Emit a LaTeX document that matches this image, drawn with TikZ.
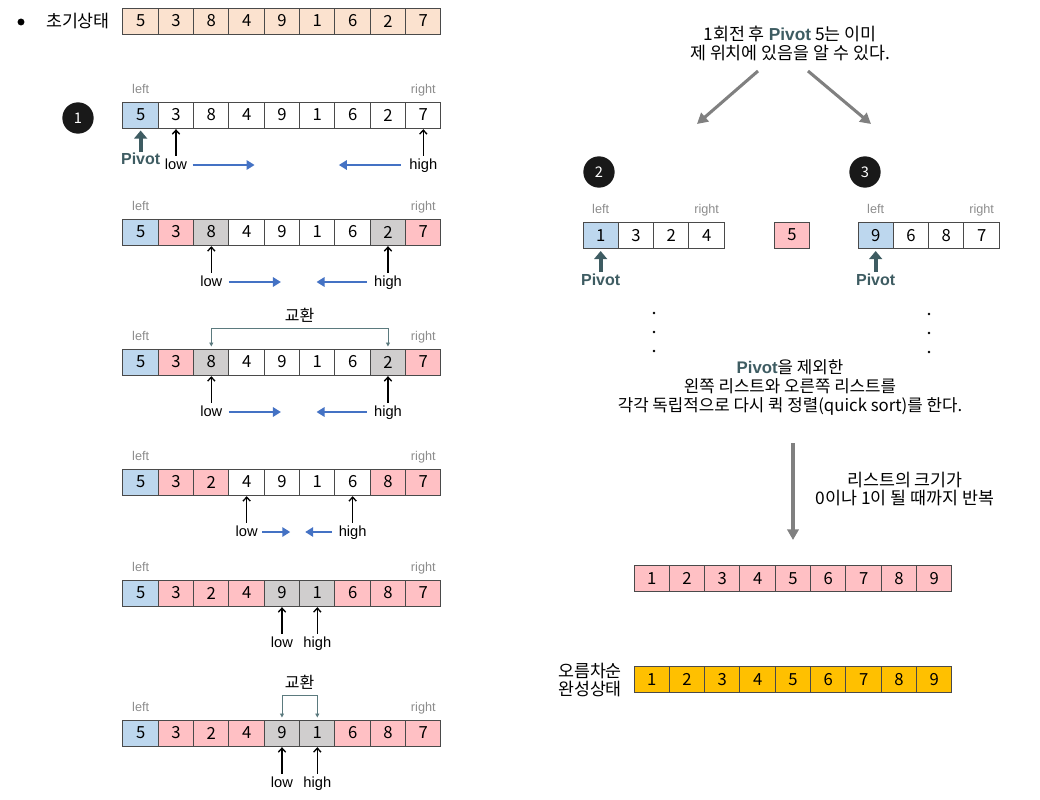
\documentclass[tikz,border=0pt]{standalone}
\usepackage{fontspec}
\setmainfont{Liberation Sans}
\newfontfamily\kr{Noto Sans CJK KR}
\usetikzlibrary{arrows.meta}
\usetikzlibrary{positioning}

\definecolor{cp}{HTML}{FBE2CF}
\definecolor{cb}{HTML}{BDD7EE}
\definecolor{cr}{HTML}{FFC0C4}
\definecolor{cg}{HTML}{D0CECE}
\definecolor{cy}{HTML}{FFC000}
\definecolor{cw}{HTML}{FFFFFF}
\definecolor{edge}{HTML}{4A4A4A}
\definecolor{movec}{HTML}{4472C4}
\definecolor{pivotc}{HTML}{3E5C62}
\definecolor{swapc}{HTML}{5B7A7E}
\definecolor{lrc}{HTML}{8C8C8C}

\newcommand{\pvt}{{\normalfont\bfseries\color{pivotc}Pivot}}

% one row of boxes: name prefix, left edge, middle y, value/colour list
\newcommand{\cellrow}[4]{%
	\foreach \val/\col [count=\i] in {#4}
		\node[cell,fill=\col] (#1\i) at ({#2+(\i-0.5)*35.33},#3) {\val};
}

\tikzset{
	cell/.style={draw=edge,line width=0.75pt,minimum width=26.5pt,minimum height=19.5pt,
		inner sep=0pt,font=\kr\fontsize{12.5}{14}\selectfont},
	lr/.style={lrc,inner sep=1pt,text height=1.6ex,text depth=0.4ex,font=\fontsize{9.5}{11}\selectfont},
	ptr/.style={inner sep=1pt,text height=1.6ex,text depth=0.45ex,font=\fontsize{11}{13}\selectfont},
	pv/.style={pivotc,inner sep=1pt,font=\bfseries\fontsize{12}{14}\selectfont},
	num/.style={circle,fill=black!90,text=white,minimum size=23.5pt,inner sep=0pt,
		font=\kr\fontsize{11}{12}\selectfont},
	msg/.style={align=center,font=\kr\fontsize{13}{14.4}\selectfont},
	ptrarr/.style={line width=1pt,-{Straight Barb[length=3pt,width=5.5pt]},shorten <=0.5pt,shorten >=0.5pt},
	move/.style={movec,line width=2.2pt,-{Triangle[length=6pt,width=7pt]}},
	pvarr/.style={pivotc,line width=3pt,-{Triangle[length=6pt,width=9.5pt]},shorten >=1.5pt},
	swap/.style={swapc,line width=0.7pt,{Triangle[length=3pt,width=3pt]}-{Triangle[length=3pt,width=3pt]},
		shorten <=1.5pt,shorten >=1.5pt},
	bigarr/.style={black!50,line width=2.3pt,-{Triangle[length=8pt,width=8.5pt]}}
}

\begin{document}
\begin{tikzpicture}[x=0.75pt,y=-0.75pt]
	\useasboundingbox (0,0) rectangle (1040,800);

	% initial state
	\fill (21,22) circle (2.6pt);
	\node[msg] (init) at (78,21.5) {초기상태};
	\cellrow{i-}{123}{21}{5/cp,3/cp,8/cp,4/cp,9/cp,1/cp,6/cp,2/cp,7/cp}

	% first pass on the left
	\node[num] (n1) at (78,118) {1};
	\cellrow{a1-}{123}{115}{5/cb,3/cw,8/cw,4/cw,9/cw,1/cw,6/cw,2/cw,7/cw}
	\cellrow{a2-}{123}{232}{5/cb,3/cr,8/cg,4/cw,9/cw,1/cw,6/cw,2/cg,7/cr}
	\cellrow{a3-}{123}{362}{5/cb,3/cr,8/cg,4/cw,9/cw,1/cw,6/cw,2/cg,7/cr}
	\cellrow{a4-}{123}{482}{5/cb,3/cr,2/cr,4/cw,9/cw,1/cw,6/cw,8/cr,7/cr}
	\cellrow{a5-}{123}{593}{5/cb,3/cr,2/cr,4/cr,9/cg,1/cg,6/cr,8/cr,7/cr}
	\cellrow{a6-}{123}{733}{5/cb,3/cr,2/cr,4/cr,9/cg,1/cg,6/cr,8/cr,7/cr}
	\foreach \r in {1,...,6} {
		\node[lr,above=3pt of a\r-1] {left};
		\node[lr,above=3pt of a\r-9] {right};
	}

	\node[pv] (pv1) at ([yshift=-33pt]a1-1.center) {Pivot};
	\draw[pvarr] (pv1) -- (a1-1);

	% low / high pointers
	\node[ptr] (lo1) at ([yshift=-37.5pt]a1-2.center) {low};
	\node[ptr] (hi1) at ([yshift=-37.5pt]a1-9.center) {high};
	\node[ptr] (lo2) at ([yshift=-37.5pt]a2-3.center) {low};
	\node[ptr] (hi2) at ([yshift=-37.5pt]a2-8.center) {high};
	\node[ptr] (lo3) at ([yshift=-37.5pt]a3-3.center) {low};
	\node[ptr] (hi3) at ([yshift=-37.5pt]a3-8.center) {high};
	\node[ptr] (lo4) at ([yshift=-37.5pt]a4-4.center) {low};
	\node[ptr] (hi4) at ([yshift=-37.5pt]a4-7.center) {high};
	\node[ptr] (lo5) at ([yshift=-37.5pt]a5-5.center) {low};
	\node[ptr] (hi5) at ([yshift=-37.5pt]a5-6.center) {high};
	\node[ptr] (lo6) at ([yshift=-37.5pt]a6-5.center) {low};
	\node[ptr] (hi6) at ([yshift=-37.5pt]a6-6.center) {high};
	\draw[ptrarr] (lo1) -- (a1-2);
	\draw[ptrarr] (hi1) -- (a1-9);
	\draw[ptrarr] (lo2) -- (a2-3);
	\draw[ptrarr] (hi2) -- (a2-8);
	\draw[ptrarr] (lo3) -- (a3-3);
	\draw[ptrarr] (hi3) -- (a3-8);
	\draw[ptrarr] (lo4) -- (a4-4);
	\draw[ptrarr] (hi4) -- (a4-7);
	\draw[ptrarr] (lo5) -- (a5-5);
	\draw[ptrarr] (hi5) -- (a5-6);
	\draw[ptrarr] (lo6) -- (a6-5);
	\draw[ptrarr] (hi6) -- (a6-6);

	% direction of the search
	\draw[move] (lo1.east) ++(4,0) -- ++(62,0);
	\draw[move] (hi1.west) ++(-7,0) -- ++(-62,0);
	\draw[move] (lo2.east) ++(5,0) -- ++(52,0);
	\draw[move] (hi2.west) ++(-6,0) -- ++(-50,0);
	\draw[move] (lo3.east) ++(5,0) -- ++(52,0);
	\draw[move] (hi3.west) ++(-6,0) -- ++(-50,0);
	\draw[move] (lo4.east) ++(3,0) -- ++(28,0);
	\draw[move] (hi4.west) ++(-5,0) -- ++(-27,0);

	% swaps
	\draw[swap] (a3-3.north) -- ++(0,-20)
		-| node[pos=0.25,above=1pt,font=\kr\fontsize{12}{13}\selectfont,black] (sw1) {교환} (a3-8.north);
	\draw[swap] (a6-5.north) -- ++(0,-24)
		-| node[pos=0.25,above=1pt,font=\kr\fontsize{12}{13}\selectfont,black] (sw2) {교환} (a6-6.north);

	% right side: split into two lists
	\node[msg] (msg1) at (790,43.5) {1회전 후 \pvt{} 5는 이미\\제 위치에 있음을 알 수 있다.};
	\coordinate (s2) at (758,71);
	\coordinate (e2) at (697,124);
	\coordinate (s3) at (808,71);
	\coordinate (e3) at (871,124);
	\draw[bigarr] (s2) -- (e2);
	\draw[bigarr] (s3) -- (e3);

	\node[num] (n2) at (599,172) {2};
	\node[num] (n3) at (865,172) {3};
	\cellrow{b-}{583}{235.5}{1/cb,3/cw,2/cw,4/cw}
	\node[cell,fill=cr] (mid) at (792,235) {5};
	\cellrow{c-}{858}{235.5}{9/cb,6/cw,8/cw,7/cw}
	\node[lr,above=3pt of b-1] {left};
	\node[lr,above=3pt of b-4] {right};
	\node[lr,above=3pt of c-1] {left};
	\node[lr,above=3pt of c-4] {right};
	\node[pv] (pv2) at ([yshift=-33pt]b-1.center) {Pivot};
	\node[pv] (pv3) at ([yshift=-33pt]c-1.center) {Pivot};
	\draw[pvarr] (pv2) -- (b-1);
	\draw[pvarr] (pv3) -- (c-1);

	\foreach \y in {313,332,351} {
		\fill (654,\y) circle (1pt);
		\fill (929,\y+1) circle (1pt);
	}

	\node[msg,font=\kr\fontsize{12.6}{14.6}\selectfont] (msg2) at (790,387.5) {\pvt{}을 제외한\\왼쪽 리스트와 오른쪽 리스트를\\각각 독립적으로 다시 퀵 정렬(quick sort)를 한다.};
	\coordinate (d1) at (793,443);
	\coordinate (d2) at (793,540);
	\draw[bigarr] (d1) -- (d2);
	\node[msg,font=\kr\fontsize{13}{13.5}\selectfont] (msg3) at (905,489) {리스트의 크기가\\0이나 1이 될 때까지 반복};

	% result
	\cellrow{s-}{634}{578.5}{1/cr,2/cr,3/cr,4/cr,5/cr,6/cr,7/cr,8/cr,9/cr}
	\cellrow{f-}{634}{679.5}{1/cy,2/cy,3/cy,4/cy,5/cy,6/cy,7/cy,8/cy,9/cy}
	\node[msg,font=\kr\fontsize{13}{13.5}\selectfont] (done) at (590,680) {오름차순\\완성상태};
\end{tikzpicture}
\end{document}
